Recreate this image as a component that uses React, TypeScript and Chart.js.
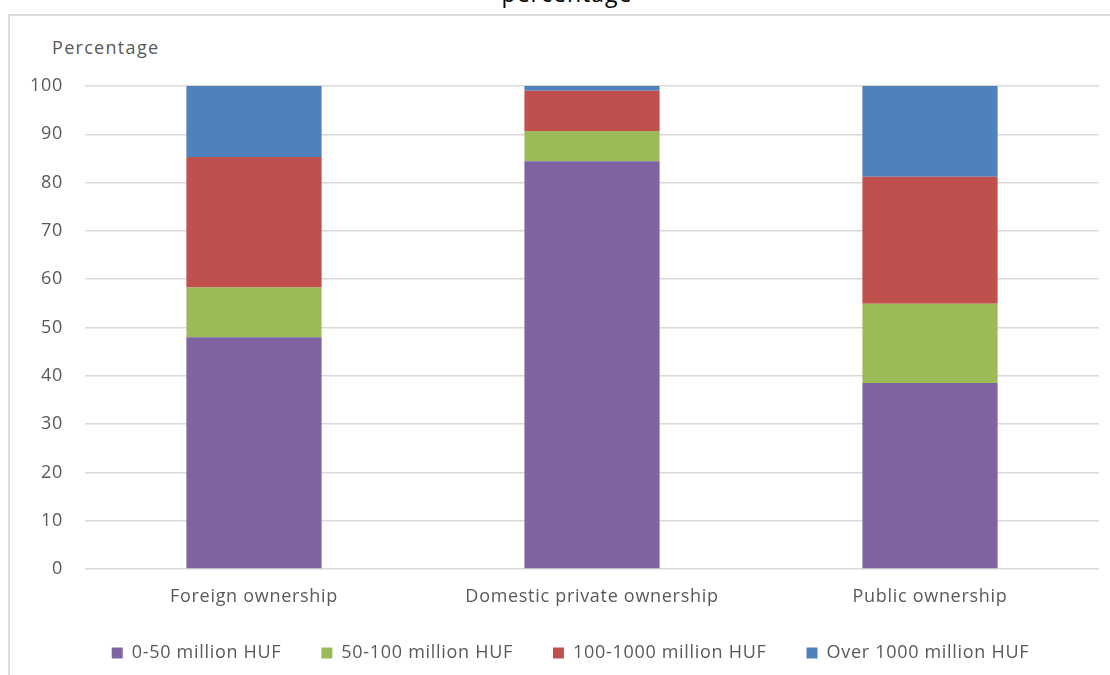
import React, { useEffect, useRef } from "react";
import { Chart, registerables } from "chart.js";

Chart.register(...registerables);

const categories = ["Foreign ownership", "Domestic private ownership", "Public ownership"];
const seriesNames = ["0-50 million HUF", "50-100 million HUF", "100-1000 million HUF", "Over 1000 million HUF"];
const small = [48.0, 84.4, 38.5];
const medium = [10.3, 6.3, 16.4];
const large = [27.0, 8.3, 26.3];
const veryLarge = [14.7, 1.0, 18.8];
const colors = ["#8064A2", "#9BBB59", "#C0504D", "#4F81BD"];
const titleText = "percentage";
const yAxisTitle = "Percentage";

const FONT = "'Open Sans', sans-serif";
const TEXT = "#595959";
const SPACING = "0.7px";

const spacingPlugin = {
  id: "letterSpacing",
  beforeUpdate(chart: any) {
    chart.ctx.letterSpacing = SPACING;
  },
  beforeLayout(chart: any) {
    chart.ctx.letterSpacing = SPACING;
  },
  afterLayout(chart: any) {
    const lg = chart.legend;
    if (lg) {
      lg.top -= 6;
      lg.bottom -= 6;
      lg.left += 7;
      lg.right += 7;
    }
  },
  beforeDraw(chart: any) {
    chart.ctx.letterSpacing = SPACING;
  },
};

export default function App() {
  const ref = useRef<HTMLCanvasElement | null>(null);
  useEffect(() => {
    if (!ref.current) return;
    const values = [small, medium, large, veryLarge];
    const chart = new Chart(ref.current, {
      type: "bar",
      data: {
        labels: categories,
        datasets: values.map((v, i) => ({
          label: seriesNames[i],
          data: v,
          backgroundColor: colors[i],
          borderWidth: 0,
          categoryPercentage: 1,
          barPercentage: 0.4,
        })),
      },
      options: {
        animation: false,
        responsive: false,
        devicePixelRatio: 1,
        layout: { padding: { top: 86, right: 11, left: 28, bottom: -3 } },
        plugins: {
          title: { display: false },
          tooltip: { enabled: false },
          legend: {
            position: "bottom",
            labels: {
              boxWidth: 11,
              boxHeight: 11,
              padding: 40,
              color: TEXT,
              font: { family: FONT, size: 18 },
            },
          },
        },
        scales: {
          x: {
            stacked: true,
            grid: { display: false, drawTicks: false },
            border: { display: false },
            ticks: { color: TEXT, font: { family: FONT, size: 18 }, padding: 17 },
            afterFit: (s: any) => {
              s.height = 41;
            },
          },
          y: {
            stacked: true,
            min: 0,
            max: 100,
            ticks: { stepSize: 10, color: TEXT, font: { family: FONT, size: 18 }, padding: 22 },
            grid: { color: "#d9d9d9", lineWidth: 1.5, drawTicks: false },
            border: { display: false },
            afterFit: (s: any) => {
              s.width = 57;
            },
          },
        },
      },
      plugins: [spacingPlugin],
    });
    return () => chart.destroy();
  }, []);
  return (
    <div style={{ position: "absolute", left: 0, top: 0, width: 1110, height: 675, overflow: "hidden", background: "#fff" }}>
      <div
        style={{
          position: "absolute",
          left: 8,
          top: 14,
          width: 1120,
          height: 700,
          border: "2px solid #dcdcdc",
          boxSizing: "border-box",
        }}
      />
      <div
        style={{
          position: "absolute",
          left: 0,
          width: 1134,
          top: -21,
          textAlign: "center",
          fontFamily: FONT,
          fontSize: 23,
          lineHeight: "28px",
          letterSpacing: "1px",
          color: "#000",
        }}
      >
        {titleText}
      </div>
      <div
        style={{
          position: "absolute",
          left: 52,
          top: 36,
          fontFamily: FONT,
          fontSize: 18,
          lineHeight: "22px",
          color: TEXT,
          letterSpacing: "1.3px",
        }}
      >
        {yAxisTitle}
      </div>
      <canvas ref={ref} width={1110} height={675} style={{ position: "absolute", left: 0, top: 0 }} />
    </div>
  );
}
